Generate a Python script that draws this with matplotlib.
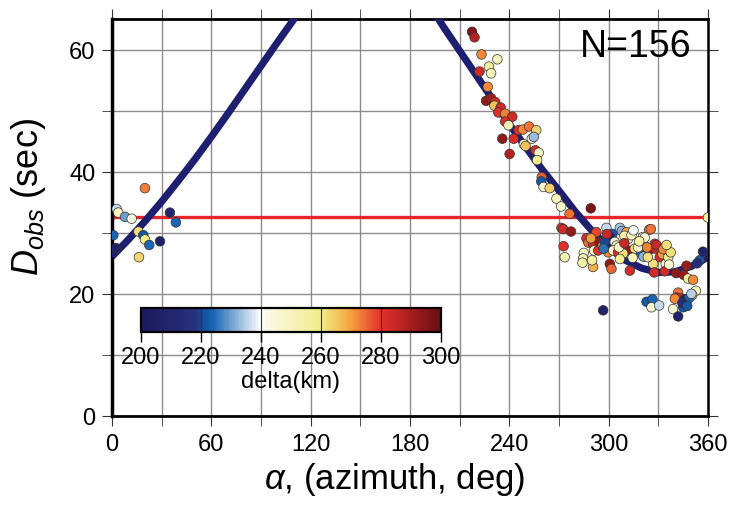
import numpy as np
import matplotlib
matplotlib.use('Agg')
import matplotlib.pyplot as plt
from matplotlib.colors import LinearSegmentedColormap, Normalize
from matplotlib.colorbar import ColorbarBase

plt.rcParams['font.family'] = ['Liberation Sans', 'DejaVu Sans']
plt.rcParams['mathtext.fontset'] = 'custom'
plt.rcParams['mathtext.rm'] = 'Liberation Sans'
plt.rcParams['mathtext.it'] = 'Liberation Sans:italic'

# observed points: azimuth (deg), D_obs (sec), delta (km)
azimuth = [
    0.8, 2.4, 2.8, 3.8, 7.9, 11.9, 16.0, 16.3, 18.9, 19.9, 19.9, 22.5, 29.0, 35.0, 38.6,
    217.5, 219.0, 223.2, 232.8, 227.7, 229.0, 222.0, 227.0, 226.0, 229.0, 231.5, 231.0,
    234.8, 233.4, 237.5, 241.8, 237.5, 239.5, 235.8, 242.7, 240.2, 245.6, 248.2, 251.9,
    256.3, 253.6, 254.8, 248.8, 249.8, 255.8, 257.8, 256.8, 259.6, 259.3, 260.7, 264.4,
    268.5, 271.3, 276.4, 289.2,
    271.5, 272.5, 277.3, 272.8, 273.5, 285.0, 284.6, 284.2, 290.6, 286.6, 287.8, 292.6,
    290.6, 294.7, 291.2, 293.7, 296.4, 289.3,
    298.7, 302.3, 300.7, 306.8, 308.0, 310.8, 311.8, 297.7, 303.7, 304.8, 299.7, 302.7,
    305.7, 311.8, 308.8, 306.8, 300.7, 301.7, 312.8, 296.7, 306.2, 309.5, 297.0,
    360.0, 324.5, 313.8, 320.7, 315.8, 319.8, 321.0, 321.8, 325.9, 327.9, 328.5, 330.9,
    331.9, 333.9, 326.9, 334.5, 332.5, 323.7, 333.9, 340.9, 345.4, 347.0, 348.0, 351.0,
    355.1, 357.0, 352.7, 350.5, 342.0, 340.9, 342.9, 340.0, 346.0, 348.6, 350.0, 338.9,
    345.0, 342.0, 322.9, 326.5, 325.9, 330.5, 336.0, 336.5, 327.5, 317.8, 323.2, 328.9,
    333.1, 321.8, 325.5,
    315.0, 318.5, 309.5, 314.5, 337.5, 353.5, 299.0, 335.0, 344.5, 347.5, 290.0,
]
d_obs = [
    29.6, 27.5, 33.9, 33.3, 32.6, 32.3, 30.2, 26.0, 29.6, 28.9, 37.3, 28.0, 28.6, 33.3, 31.7,
    62.9, 62.0, 59.2, 58.4, 57.2, 56.1, 56.4, 53.9, 51.6, 52.0, 51.4, 50.8,
    50.5, 49.7, 49.5, 49.0, 48.2, 47.6, 45.4, 45.4, 42.9, 46.8, 46.9, 47.4,
    46.8, 45.4, 45.7, 44.5, 44.2, 43.5, 43.1, 41.9, 39.1, 38.4, 37.5, 37.3,
    35.6, 34.3, 33.1, 34.0,
    30.8, 30.6, 30.2, 27.8, 26.0, 26.7, 25.8, 25.1, 24.4, 29.1, 28.4, 30.1,
    28.2, 28.5, 27.1, 27.1, 27.9, 29.1,
    30.8, 29.8, 29.3, 30.8, 30.3, 30.1, 29.0, 28.5, 28.5, 27.9, 26.8, 27.1,
    26.8, 27.1, 26.6, 25.7, 24.9, 24.1, 23.8, 17.3, 27.6, 29.5, 27.4,
    32.5, 30.5, 29.6, 29.3, 27.4, 26.6, 26.1, 27.9, 27.4, 28.2, 27.4, 26.0,
    27.4, 27.1, 24.9, 24.9, 26.5, 26.0, 23.7, 23.4, 23.1, 24.6, 22.5, 22.3,
    25.5, 26.9, 20.5, 19.8, 20.2, 19.4, 19.3, 19.2, 19.1, 19.3, 20.0, 17.5,
    17.8, 16.3, 18.7, 19.1, 17.8, 18.1, 26.0, 24.8, 23.5, 27.6, 27.6, 28.0,
    27.3, 29.2, 30.6,
    30.4, 28.6, 28.3, 25.9, 26.8, 25.0, 29.8, 28.0, 18.5, 18.0, 25.5,
]
delta = [
    224, 205, 236, 250, 230, 243, 262, 263, 222, 260, 273, 224, 207, 209, 224,
    296, 288, 272, 250, 257, 250, 283, 272, 293, 290, 283, 266,
    283, 281, 273, 283, 281, 250, 293, 282, 288, 280, 272, 274,
    263, 244, 233, 248, 266, 282, 248, 258, 276, 222, 246, 264,
    250, 248, 274, 297,
    280, 283, 292, 280, 252, 248, 252, 254, 268, 282, 275, 278,
    283, 293, 248, 280, 272, 270,
    236, 222, 207, 234, 232, 270, 248, 220, 244, 250, 272, 246,
    282, 292, 262, 258, 293, 275, 282, 208, 248, 255, 225,
    258, 273, 250, 248, 262, 224, 232, 268, 293, 282, 283, 282,
    272, 250, 262, 246, 270, 262, 283, 293, 292, 292, 258, 272,
    222, 208, 252, 265, 274, 282, 283, 272, 206, 224, 235, 246,
    222, 208, 222, 224, 246, 236, 258, 246, 283, 248, 273, 284,
    272, 246, 274,
    240, 255, 284, 250, 262, 215, 284, 262, 215, 222, 255,
]

# fitted curve (two visible branches)
curve_az_left = [0, 10, 20, 30, 40, 50, 60, 70, 80, 90, 100, 110, 115]
curve_d_left = [26.1, 28.9, 31.9, 35.1, 38.5, 42.0, 45.7, 49.5, 53.4, 57.3, 61.2, 65.0, 67.0]
curve_az_right = [195, 200, 210, 220, 230, 240, 250, 260, 270, 280, 290, 300, 310,
                  320, 330, 340, 350, 360]
curve_d_right = [66.0, 63.8, 59.8, 55.8, 51.8, 47.8, 44.0, 40.3, 36.9, 33.4, 30.3,
                 27.6, 25.5, 24.2, 23.5, 23.6, 24.5, 26.0]

mean_d = 32.5
n_obs = 156

cmap = LinearSegmentedColormap.from_list('delta', [
    (0.0, '#1a1a5a'), (0.18, '#28307f'), (0.21, '#13529f'), (0.24, '#1a66b3'),
    (0.4, '#ffffff'), (0.42, '#fbfae6'), (0.6, '#f1ed8a'), (0.7, '#f5a23c'),
    (0.8, '#e3302a'), (1.0, '#6a0d12')])
norm = Normalize(200, 300)

fig = plt.figure(figsize=(7.3, 5.06), dpi=100)
ax = fig.add_axes([0.1534, 0.1759, 0.8164, 0.7846])

ax.axhline(mean_d, color='#e8262a', linewidth=2.4, zorder=2)
ax.plot(curve_az_left, curve_d_left, color='#1e1f6e', linewidth=5.2,
        solid_capstyle='butt', zorder=3)
ax.plot(curve_az_right, curve_d_right, color='#1e1f6e', linewidth=5.2,
        solid_capstyle='butt', zorder=3)
ax.scatter(azimuth, d_obs, c=delta, cmap=cmap, norm=norm, s=48,
           edgecolors='#333333', linewidths=0.5, zorder=4)

ax.set_xlim(0, 360)
ax.set_ylim(0, 65)
ax.set_xticks(np.arange(0, 361, 60))
ax.set_xticks(np.arange(30, 360, 60), minor=True)
ax.set_yticks([0, 20, 40, 60])
ax.set_yticks([10, 30, 50], minor=True)
ax.grid(True, which='both', color='#8c8c8c', linewidth=1.0)
ax.set_axisbelow(True)
ax.tick_params(which='both', direction='out', top=True, right=True,
               labelsize=17, color='#333333')
ax.tick_params(which='major', length=7, pad=5)
ax.tick_params(which='minor', length=7)
for side, lw in [('top', 2.0), ('bottom', 2.0), ('left', 2.5), ('right', 1.8)]:
    ax.spines[side].set_linewidth(lw)
    ax.spines[side].set_color('black')

ax.set_xlabel(r'$\alpha$, (azimuth, deg)', fontsize=25)
ax.xaxis.set_label_coords(0.475, -0.11)
ax.set_ylabel(r'$D_{obs}$ (sec)', fontsize=26)
ax.yaxis.set_label_coords(-0.108, 0.555)
ax.text(0.972, 0.978, f'N={n_obs}', transform=ax.transAxes, ha='right', va='top',
        fontsize=27)

cax = fig.add_axes([0.1931, 0.3413, 0.411, 0.0471])
cb = ColorbarBase(cax, cmap=cmap, norm=norm, orientation='horizontal',
                  ticks=np.arange(200, 301, 20))
cb.outline.set_linewidth(1.6)
for v in [220, 240, 260, 280]:
    cax.axvline(v, color='#333333', linewidth=0.8)
cax.tick_params(direction='out', length=7, width=1.0, labelsize=17, pad=3)
cb.set_label('delta(km)', fontsize=17, labelpad=1)
cax.patch.set_alpha(0)

fig.savefig('out.png', dpi=100)
